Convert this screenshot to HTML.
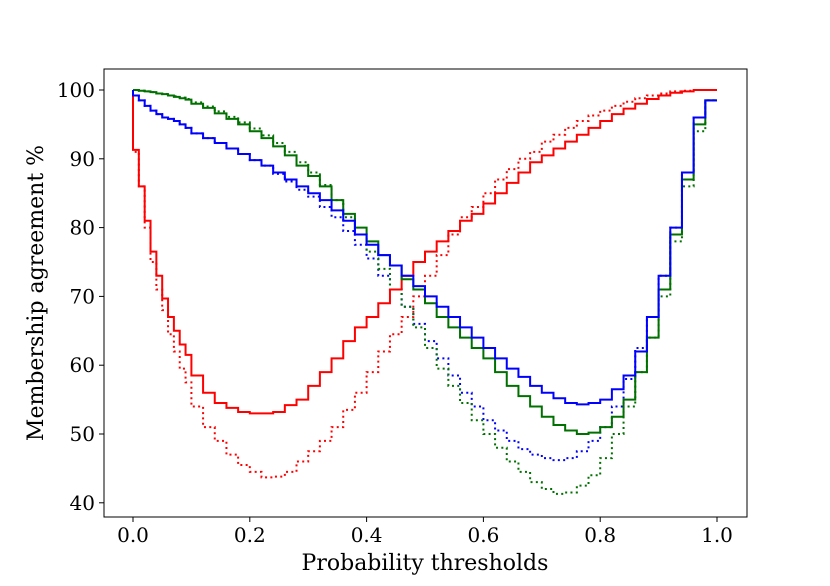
<!DOCTYPE html>
<html><head><meta charset="utf-8"><style>
body{margin:0;background:#fff;}
svg text{font-family:"DejaVu Serif","Liberation Serif",serif;fill:#000;}
</style></head><body>
<svg id="chart" width="830" height="581" xmlns="http://www.w3.org/2000/svg">
<rect x="104" y="69" width="643" height="448" fill="#fff" stroke="#000" stroke-width="1"/>
<g id="marks"></g>
<g id="axes"></g>
<text x="425" y="570" font-size="22" text-anchor="middle">Probability thresholds</text>
<text transform="translate(43,293) rotate(-90)" font-size="22" text-anchor="middle">Membership agreement %</text>
</svg>
<script>
const thresholds=[0,0.01,0.02,0.03,0.04,0.05,0.06,0.07,0.08,0.09,0.1,0.12,0.14,0.16,0.18,0.2,0.22,0.24,0.26,0.28,0.3,0.32,0.34,0.36,0.38,0.4,0.42,0.44,0.46,0.48,0.5,0.52,0.54,0.56,0.58,0.6,0.62,0.64,0.66,0.68,0.7,0.72,0.74,0.76,0.78,0.8,0.82,0.84,0.86,0.88,0.9,0.92,0.94,0.96,0.98,1.0];
const redSolid=[100,91.3,86,81,76.5,73,69.7,67,65,63,61.5,58.5,56,54.5,53.8,53.2,53,53,53.2,54.2,55,57,59,61,63.5,65.5,67,69,71,73,75,76.5,78,79.5,81,82,83.5,85,86.5,88,89.5,90.5,91.5,92.5,93.5,94.5,95.5,96.5,97.3,98,98.7,99.2,99.6,99.8,100,100];
const redDotted=[100,91,86,80,75,71,68,64.5,62,59.5,57.5,54,51,49,47,45.5,44.5,43.7,43.8,44.5,46,47.5,49,51,53.5,56,59,62,64.5,67,70,73,76,79,81.5,83,85,87,88.5,90,91,92.5,93.5,94.5,95.5,96.3,97,97.7,98.3,98.8,99.2,99.5,99.8,99.9,100,100];
const blueSolid=[100,99.2,98.5,97.7,97,96.5,96,95.8,95.5,95,94.5,93.7,93,92.3,91.5,90.7,89.8,89,88,87,86,85,84,82.5,81,79,77.5,76,74.5,73,71.5,70,68.5,67,65.5,64,62.5,61,59.5,58.3,57,56,55.2,54.5,54.3,54.5,55,56.5,58.5,62,67,73,80,88,96,98.5];
const blueDotted=[100,99.2,98.5,97.7,97,96.5,96,95.8,95.5,95,94.5,93.7,93,92.3,91.5,90.7,89.8,89,87.8,86.7,85.5,84.5,83,81.5,79.5,77.5,75.5,73,71,68.5,66,63.5,61,58.5,56,54,52,50.5,49,47.8,47,46.5,46.2,46.5,47.5,49,51,54,58,62.5,67,73,80,88,96,98.5];
const greenSolid=[100,100,99.9,99.8,99.7,99.5,99.4,99.2,99,98.8,98.6,98,97.4,96.6,95.8,95,94,93,91.8,90.5,89,87.5,86,84,82,80,78,76,74.5,72.5,71,69,67,65.5,64,62.5,61,59,57,55.5,54,52.5,51.3,50.5,50,50.2,51,52.5,55,59,64,71,79,87,95,98.5];
const greenDotted=[100,100,99.9,99.8,99.7,99.5,99.4,99.2,99.1,98.9,98.7,98.2,97.6,96.9,96.1,95.3,94.4,93.4,92.3,91,89.5,88,86.2,84,81.5,79,76.5,74,71,68.5,65.5,62.5,59.5,57,54.5,52,50,48,46,44.5,43,42,41.3,41.5,42.5,44,46.5,50,54,59,64,70,78,86,94,98.5];
const xTicks=[0,0.2,0.4,0.6,0.8,1.0];
const xTickLabels=["0.0","0.2","0.4","0.6","0.8","1.0"];
const yTicks=[40,50,60,70,80,90,100];

const NS="http://www.w3.org/2000/svg";
function xs(v){return 133+v*584;}
function ys(v){return 90+(100-v)*6.88;}
const marks=document.getElementById('marks');
const axes=document.getElementById('axes');
function drawStep(vals,color,dotted,name){
  let d="M"+xs(thresholds[0])+","+ys(vals[0]);
  for(let i=1;i<vals.length;i++){
    d+=" L"+xs(thresholds[i-1])+","+ys(vals[i])+" L"+xs(thresholds[i])+","+ys(vals[i]);
  }
  const p=document.createElementNS(NS,'path');
  p.setAttribute('d',d);p.setAttribute('fill','none');p.setAttribute('stroke',color);
  p.setAttribute('stroke-width','2');
  if(dotted)p.setAttribute('stroke-dasharray','2,3.3');
  
  
  marks.appendChild(p);
}
drawStep(redDotted,'#ff0000',true,'red-dotted-line');
drawStep(blueDotted,'#0000ff',true,'blue-dotted-line');
drawStep(greenDotted,'#007000',true,'green-dotted-line');
drawStep(redSolid,'#ff0000',false,'red-solid-line');
drawStep(greenSolid,'#007000',false,'green-solid-line');
drawStep(blueSolid,'#0000ff',false,'blue-solid-line');
xTicks.forEach((t,i)=>{
  const l=document.createElementNS(NS,'line');
  l.setAttribute('x1',xs(t));l.setAttribute('x2',xs(t));l.setAttribute('y1',517);l.setAttribute('y2',522);l.setAttribute('stroke','#000');
  
  
  axes.appendChild(l);
  const tx=document.createElementNS(NS,'text');
  tx.setAttribute('x',xs(t));tx.setAttribute('y',542);tx.setAttribute('font-size','20');tx.setAttribute('text-anchor','middle');
  tx.textContent=xTickLabels[i];
  
  
  axes.appendChild(tx);
});
yTicks.forEach(t=>{
  const l=document.createElementNS(NS,'line');
  l.setAttribute('x1',99);l.setAttribute('x2',104);l.setAttribute('y1',ys(t));l.setAttribute('y2',ys(t));l.setAttribute('stroke','#000');
  
  
  axes.appendChild(l);
  const tx=document.createElementNS(NS,'text');
  tx.setAttribute('x',95);tx.setAttribute('y',ys(t)+7);tx.setAttribute('font-size','20');tx.setAttribute('text-anchor','end');
  tx.textContent=String(t);
  
  
  axes.appendChild(tx);
});
</script>
</body></html>
